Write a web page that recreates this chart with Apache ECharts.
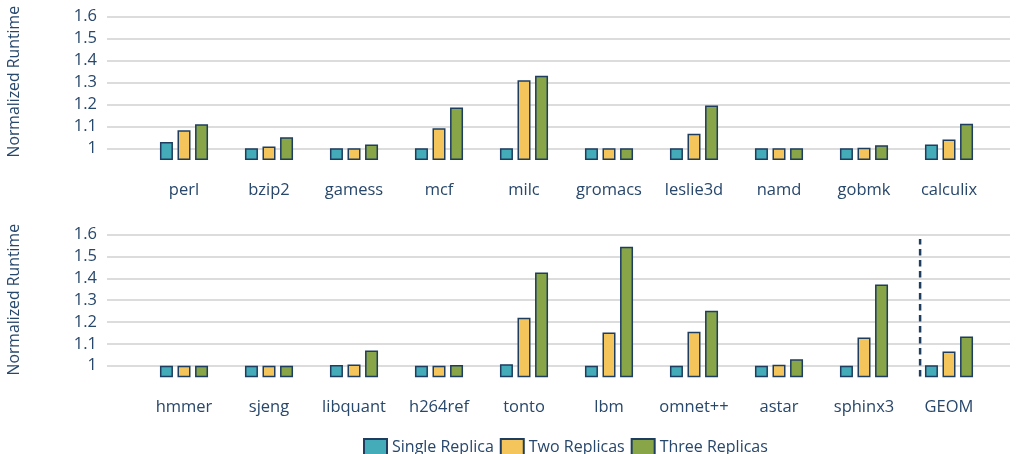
<!DOCTYPE html>
<html>
<head>
<meta charset="utf-8">
<script src="https://cdn.jsdelivr.net/npm/echarts@6/dist/echarts.min.js"></script>
<style>
  html, body { margin: 0; padding: 0; background: #ffffff; }
  #chart { width: 1022px; height: 454px; }
</style>
</head>
<body>
<div id="chart"></div>
<script>
// Benchmark runtimes normalized to the unreplicated baseline
var catsTop = ['perl', 'bzip2', 'gamess', 'mcf', 'milc', 'gromacs', 'leslie3d', 'namd', 'gobmk', 'calculix'];
var singleTop = [1.029, 1.0, 1.0, 1.0, 1.0, 1.0, 1.0, 1.0, 1.0, 1.017];
var twoTop = [1.082, 1.008, 1.0, 1.091, 1.309, 1.0, 1.066, 1.0, 1.003, 1.04];
var threeTop = [1.109, 1.05, 1.017, 1.186, 1.33, 1.0, 1.195, 1.0, 1.014, 1.112];

var catsBottom = ['hmmer', 'sjeng', 'libquant', 'h264ref', 'tonto', 'lbm', 'omnet++', 'astar', 'sphinx3', 'GEOM'];
var singleBottom = [1.0, 1.0, 1.003, 1.0, 1.007, 1.0, 1.0, 1.0, 1.0, 1.002];
var twoBottom = [1.0, 1.0, 1.005, 1.0, 1.22, 1.152, 1.155, 1.004, 1.129, 1.065];
var threeBottom = [1.0, 1.0, 1.069, 1.003, 1.427, 1.545, 1.252, 1.029, 1.372, 1.134];

var seriesNames = ['Single Replica', 'Two Replicas', 'Three Replicas'];
// Separator between benchmarks and the geometric mean (category-axis units)
var separatorX = 8.66;
var separatorRange = [0.95, 1.58];

var colors = ['#44acb9', '#f3c55a', '#88a548'];
var navy = '#1e3d5f';
var textColor = '#27476b';
var fontFamily = 'Open Sans';

var yMinBars = 0.95, yMinGrid = 0.9, yMax = 1.6;

function helperY(gridIndex) {
  return {
    gridIndex: gridIndex, type: 'value', min: yMinGrid, max: yMax, interval: 0.1,
    axisLine: { show: false }, axisTick: { show: false },
    axisLabel: { showMinLabel: false, color: textColor, fontSize: 16.5, fontFamily: fontFamily, margin: 10 },
    splitLine: { show: true, showMinLine: false, lineStyle: { color: '#dcdcdc', width: 2 } }
  };
}
function mainY(gridIndex) {
  return { gridIndex: gridIndex, type: 'value', min: yMinBars, max: yMax, show: false, splitLine: { show: false } };
}
function catX(gridIndex, cats) {
  return {
    gridIndex: gridIndex, type: 'category', data: cats,
    axisLine: { show: false }, axisTick: { show: false },
    axisLabel: { interval: 0, color: textColor, fontSize: 16.5, fontFamily: fontFamily, margin: 22 }
  };
}
function bars(xi, yi, arrays) {
  return arrays.map(function (arr, k) {
    return {
      name: seriesNames[k], type: 'bar', xAxisIndex: xi, yAxisIndex: yi,
      data: arr, barWidth: 13, barGap: '35%',
      itemStyle: { color: colors[k], borderColor: navy, borderWidth: 1.5 },
      emphasis: { disabled: true }
    };
  });
}

// Pixel scale: 0.1 units ≈ 22px (top) and ≈ 21.8px (bottom)
var topPx = 16.3, pxTop = 220;
var botPx = 234.7, pxBot = 218.3;

var titleFont = '15.8px "Open Sans"';

var option = {
  animation: false,
  textStyle: { fontFamily: fontFamily },
  grid: [
    { left: 107, right: 12, top: topPx, height: (yMax - yMinGrid) * pxTop },
    { left: 141.5, width: 850, top: topPx, height: (yMax - yMinBars) * pxTop },
    { left: 107, right: 12, top: botPx, height: (yMax - yMinGrid) * pxBot },
    { left: 141.5, width: 850, top: botPx, height: (yMax - yMinBars) * pxBot }
  ],
  xAxis: [
    { gridIndex: 0, type: 'value', show: false },
    catX(1, catsTop),
    { gridIndex: 2, type: 'value', show: false },
    catX(3, catsBottom),
    { gridIndex: 3, type: 'value', min: -0.5, max: 9.5, show: false }
  ],
  yAxis: [helperY(0), mainY(1), helperY(2), mainY(3)],
  legend: {
    data: seriesNames, left: 363, top: 438, padding: 0, icon: 'rect',
    itemWidth: 23, itemHeight: 16, itemGap: 6,
    textStyle: { color: textColor, fontSize: 16, fontFamily: fontFamily }
  },
  graphic: [
    { type: 'text', left: 6, top: 6, rotation: Math.PI / 2, style: { text: 'Normalized Runtime', fill: textColor, font: titleFont } },
    { type: 'text', left: 6, top: 224, rotation: Math.PI / 2, style: { text: 'Normalized Runtime', fill: textColor, font: titleFont } }
  ],
  series: bars(1, 1, [singleTop, twoTop, threeTop])
    .concat(bars(3, 3, [singleBottom, twoBottom, threeBottom]))
    .concat([{
      type: 'line', xAxisIndex: 4, yAxisIndex: 3, symbol: 'none', silent: true,
      data: [[separatorX, separatorRange[0]], [separatorX, separatorRange[1]]],
      lineStyle: { color: navy, width: 2.5, type: [6.5, 4.5] }
    }])
};

var chart = echarts.init(document.getElementById('chart'), null, { renderer: 'canvas' });
chart.setOption(option);
</script>
</body>
</html>
